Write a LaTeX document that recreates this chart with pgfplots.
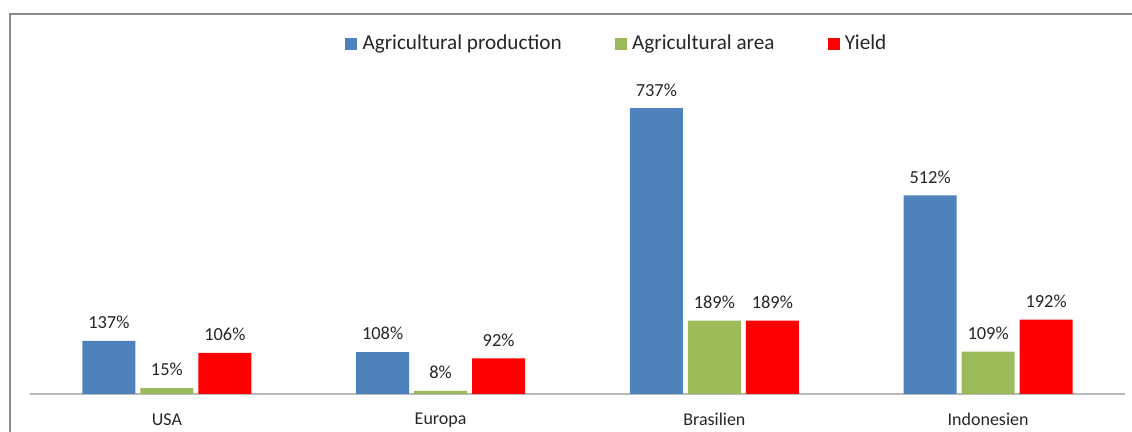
\documentclass[border=0pt]{standalone}
\usepackage{fontspec}
\setmainfont{Carlito}
\usepackage{pgfplots}
\pgfplotsset{compat=1.18}
\definecolor{prodblue}{HTML}{4F81BD}
\definecolor{areagreen}{HTML}{9BBB59}
\definecolor{yieldred}{HTML}{FF0000}
\definecolor{framegray}{HTML}{8C8C8C}
\definecolor{txt}{HTML}{262626}

\begin{document}
\begin{tikzpicture}
\path[use as bounding box] (0,0) rectangle (566pt,216pt);
% chart frame (cut off at the right and bottom)
\draw[framegray, line width=1pt] (5pt,-2pt) -- (5pt,209pt) -- (570pt,209pt);
\begin{axis}[
    at={(15pt,19pt)}, anchor=south west,
    scale only axis,
    width=547.5pt, height=190pt,
    ybar=2.5pt, bar width=26.5pt,
    xmin=-0.5, xmax=3.5, ymin=0, ymax=980,
    enlargelimits=false,
    clip=false,
    axis x line=bottom, axis y line=none,
    x axis line style={-, draw=gray!55, line width=0.6pt},
    xtick=data,
    xticklabels={USA, Europa, Brasilien, Indonesien},
    xtick style={draw=none},
    xticklabel style={font=\fontsize{9}{11}\selectfont, text=txt, yshift=-4pt},
    ytick=\empty,
    /pgf/number format/assume math mode=true,
    nodes near coords={\pgfmathprintnumber{\pgfplotspointmeta}\%},
    every node near coord/.append style={font=\fontsize{9.2}{11}\selectfont, text=txt, yshift=2.5pt},
    legend columns=3,
    legend style={draw=none, fill=none, at={(0.5374,0.921)}, anchor=center,
        font=\fontsize{10.6}{12}\selectfont, text=txt,
        /tikz/every even column/.append style={column sep=24pt},
        nodes={inner sep=2.6pt}},
    legend image code/.code={\path[#1, draw=none] (0pt,-3pt) rectangle (6pt,3pt);},
]
\addplot[fill=prodblue, draw=none] coordinates {(0,137) (1,108) (2,737) (3,512)};
\addplot[fill=areagreen, draw=none] coordinates {(0,15) (1,8) (2,189) (3,109)};
\addplot[fill=yieldred, draw=none] coordinates {(0,106) (1,92) (2,189) (3,192)};
\legend{Agricultural production, Agricultural area, Yield}
\end{axis}
\end{tikzpicture}
\end{document}
